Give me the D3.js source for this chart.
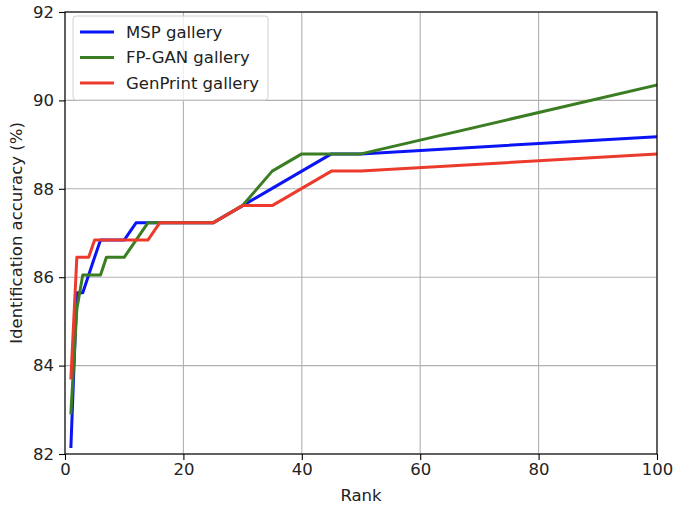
<!DOCTYPE html>
<html>
<head>
<meta charset="utf-8">
<script src="https://cdn.jsdelivr.net/npm/d3@7"></script>
<style>
  html, body { margin: 0; padding: 0; background: #fff; }
  svg { display: block; font-family: "DejaVu Sans", sans-serif; }
</style>
</head>
<body>
<svg id="chart" width="673" height="506"></svg>
<script>
// Rank values at which accuracy was measured
const ranks = [1, 2, 3, 4, 5, 6, 7, 8, 9, 10, 12, 14, 16, 18, 20, 25, 30, 35, 40, 45, 50, 100];

// Identification accuracy (%) per gallery
const mspValues = [82.17, 85.65, 85.65, 86.05, 86.45, 86.84, 86.84, 86.84, 86.84, 86.84, 87.23, 87.23, 87.23, 87.23, 87.23, 87.23, 87.62, 88.01, 88.40, 88.79, 88.79, 89.18];
const fpganValues = [82.93, 85.28, 86.05, 86.05, 86.05, 86.05, 86.45, 86.45, 86.45, 86.45, 86.84, 87.23, 87.23, 87.23, 87.23, 87.23, 87.62, 88.40, 88.79, 88.79, 88.79, 90.35];
const genprintValues = [83.72, 86.45, 86.45, 86.45, 86.84, 86.84, 86.84, 86.84, 86.84, 86.84, 86.84, 86.84, 87.23, 87.23, 87.23, 87.23, 87.62, 87.62, 88.01, 88.40, 88.40, 88.79];

const seriesNames = ["MSP gallery", "FP-GAN gallery", "GenPrint gallery"];
const seriesColors = ["#0a14f5", "#3a7d22", "#ec3a2c"];

const xTicks = [0, 20, 40, 60, 80, 100];
const yTicks = [82, 84, 86, 88, 90, 92];

const series = [mspValues, fpganValues, genprintValues].map((vals, i) => ({
  name: seriesNames[i],
  color: seriesColors[i],
  points: ranks.map((r, j) => ({ rank: r, acc: vals[j] }))
}));

const svg = d3.select("#chart");
const margin = { left: 65, right: 16, top: 12, bottom: 52 };
const W = 673, H = 506;
const x = d3.scaleLinear().domain([0, 100]).range([margin.left, W - margin.right]);
const y = d3.scaleLinear().domain([82, 92]).range([H - margin.bottom, margin.top]);

const fontSize = 16.5;

// Grid
svg.append("g")
  .selectAll("line")
  .data(xTicks)
  .join("line")
  .attr("x1", d => x(d)).attr("x2", d => x(d))
  .attr("y1", y(82)).attr("y2", y(92))
  .attr("stroke", "#b0b0b0").attr("stroke-width", 1.1);
svg.append("g")
  .selectAll("line")
  .data(yTicks)
  .join("line")
  .attr("y1", d => y(d)).attr("y2", d => y(d))
  .attr("x1", x(0)).attr("x2", x(100))
  .attr("stroke", "#b0b0b0").attr("stroke-width", 1.1);

// Lines
const line = d3.line().x(d => x(d.rank)).y(d => y(d.acc));
const plot = svg.append("g");
plot.append("clipPath").attr("id", "clip")
  .append("rect").attr("x", x(0)).attr("y", y(92)).attr("width", x(100) - x(0)).attr("height", y(82) - y(92));
plot.selectAll("path.series")
  .data(series)
  .join("path")
  .attr("class", "series")
  .attr("d", d => line(d.points))
  .attr("fill", "none")
  .attr("stroke", d => d.color)
  .attr("stroke-width", 3)
  .attr("stroke-linejoin", "round")
  .attr("stroke-linecap", "square")
  .attr("clip-path", "url(#clip)");

// Axes
const xAxis = d3.axisBottom(x).tickValues(xTicks).tickSize(6).tickPadding(3);
const yAxis = d3.axisLeft(y).tickValues(yTicks).tickSize(6).tickPadding(5);
const gx = svg.append("g").attr("transform", `translate(0,${y(82)})`).call(xAxis);
const gy = svg.append("g").attr("transform", `translate(${x(0)},0)`).call(yAxis);
[gx, gy].forEach(g => {
  g.select(".domain").remove();
  g.selectAll(".tick line").attr("stroke", "#000").attr("stroke-width", 1.1);
  g.selectAll(".tick text").attr("font-size", fontSize).attr("fill", "#222")
    .attr("font-family", "DejaVu Sans, sans-serif");
});

// Frame
svg.append("rect")
  .attr("x", x(0)).attr("y", y(92))
  .attr("width", x(100) - x(0)).attr("height", y(82) - y(92))
  .attr("fill", "none").attr("stroke", "#000").attr("stroke-width", 1.1);

// Axis labels
svg.append("text")
  .attr("x", (x(0) + x(100)) / 2).attr("y", 501)
  .attr("text-anchor", "middle").attr("font-size", fontSize).attr("fill", "#222")
  .text("Rank");
svg.append("text")
  .attr("transform", `translate(22,${(y(82) + y(92)) / 2}) rotate(-90)`)
  .attr("text-anchor", "middle").attr("font-size", fontSize).attr("fill", "#222")
  .text("Identification accuracy (%)");

// Legend
const lg = svg.append("g").attr("transform", "translate(73,16)");
lg.append("rect")
  .attr("width", 195).attr("height", 84).attr("rx", 3)
  .attr("fill", "rgba(255,255,255,0.8)").attr("stroke", "#d0d0d0").attr("stroke-width", 1);
series.forEach((s, i) => {
  const cy = 16 + i * 25.5;
  lg.append("line")
    .attr("x1", 7).attr("x2", 41).attr("y1", cy).attr("y2", cy)
    .attr("stroke", s.color).attr("stroke-width", 3);
  lg.append("text")
    .attr("x", 53).attr("y", cy).attr("dy", "0.35em")
    .attr("font-size", fontSize).attr("fill", "#222")
    .text(s.name);
});
</script>
</body>
</html>
